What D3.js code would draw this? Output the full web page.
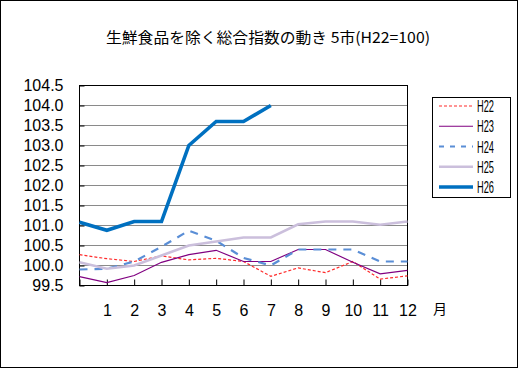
<!DOCTYPE html>
<html><head><meta charset="utf-8">
<script src="https://cdn.jsdelivr.net/npm/d3@7/dist/d3.min.js"></script>
<style>body{margin:0;background:#fff}svg{display:block}</style>
</head><body>
<script>
const months = ["", "1","2","3","4","5","6","7","8","9","10","11","12"];
const yTicks = [99.5,100.0,100.5,101.0,101.5,102.0,102.5,103.0,103.5,104.0,104.5];
const h22 = [100.27,100.17,100.10,100.24,100.14,100.18,100.10,99.73,99.94,99.82,100.10,99.66,99.74];
const h23 = [99.72,99.57,99.75,100.08,100.27,100.38,100.10,100.10,100.40,100.40,100.08,99.79,99.88];
const h24 = [99.90,99.92,100.10,100.47,100.87,100.62,100.19,100.00,100.40,100.40,100.40,100.10,100.10];
const h25 = [100.08,99.92,100.00,100.25,100.50,100.60,100.70,100.70,101.03,101.10,101.10,101.02,101.10];
const h26 = [101.08,100.88,101.10,101.10,103.00,103.60,103.60,104.00];
const seriesNames = ["H22","H23","H24","H25","H26"];
const title = "生鮮食品を除く総合指数の動き 5市(H22=100)";

const styles = {
  H22:{color:"#ff2a2a", width:1.2, dash:"3,2"},
  H23:{color:"#800080", width:1.2, dash:null},
  H24:{color:"#5a8ed6", width:2.2, dash:"8,7"},
  H25:{color:"#cbbfdc", width:2.6, dash:null},
  H26:{color:"#0070c0", width:3.6, dash:null}
};
const data = {H22:h22,H23:h23,H24:h24,H25:h25,H26:h26};

const W=519,H=369;
const svg = d3.select("body").append("svg").attr("width",W).attr("height",H);
svg.append("rect").attr("x",0.5).attr("y",0.5).attr("width",517).attr("height",367)
  .attr("fill","#fff").attr("stroke","#000");

const L=79.5,R=407.5,T=85.5,B=285.5;
const x = d3.scalePoint().domain(d3.range(months.length)).range([L,R]);
const y = d3.scaleLinear().domain([99.5,104.5]).range([B,T]);

// gridlines
svg.append("g").selectAll("line").data(yTicks.slice(1,-1)).join("line")
  .attr("x1",L).attr("x2",R).attr("y1",d=>y(d)).attr("y2",d=>y(d))
  .attr("stroke","#8a8a8a").attr("stroke-width",1);

// frame
svg.append("rect").attr("x",L).attr("y",T).attr("width",R-L).attr("height",B-T)
  .attr("fill","none").attr("stroke","#000");

// y axis
const yAxis = d3.axisLeft(y).tickValues(yTicks).tickFormat(d3.format(".1f")).tickSize(-5).tickPadding(16);
const gy = svg.append("g").attr("transform",`translate(${L},0)`).call(yAxis);
gy.select(".domain").remove();
gy.selectAll("text").attr("font-family","Liberation Sans, Arial, sans-serif").attr("font-size",16).attr("fill","#000");
gy.selectAll("line").attr("stroke","#000");

// x axis
const xAxis = d3.axisBottom(x).tickFormat(i=>months[i]).tickSize(-6).tickPadding(19);
const gx = svg.append("g").attr("transform",`translate(0,${B})`).call(xAxis);
gx.select(".domain").remove();
gx.selectAll("text").attr("font-family","Liberation Sans, Arial, sans-serif").attr("font-size",16).attr("fill","#000");
gx.selectAll("line").attr("stroke","#000");
svg.append("text").attr("x",433).attr("y",314).attr("font-family","Noto Sans CJK JP").attr("font-size",14).text("月");

// lines
const line = d3.line().x((d,i)=>x(i)).y(d=>y(d));
seriesNames.forEach(n=>{
  const s=styles[n];
  svg.append("path").datum(data[n]).attr("d",line).attr("fill","none")
    .attr("stroke",s.color).attr("stroke-width",s.width)
    .attr("stroke-dasharray",s.dash).attr("stroke-linejoin","miter");
});

// legend
const lg = svg.append("g");
lg.append("rect").attr("x",432.5).attr("y",97.5).attr("width",78).attr("height",100).attr("fill","#fff").attr("stroke","#000");
const ly = d3.scalePoint().domain(seriesNames).range([106,187]);
seriesNames.forEach(n=>{
  const s=styles[n];
  lg.append("line").attr("x1",439).attr("x2",473).attr("y1",ly(n)).attr("y2",ly(n))
    .attr("stroke",s.color).attr("stroke-width",s.width).attr("stroke-dasharray",s.dash==="8,7"?"5,6":s.dash);
  lg.append("text").attr("x",477).attr("y",ly(n)+6).attr("font-family","Liberation Sans, Arial, sans-serif")
    .attr("font-size",16).attr("textLength",17).attr("lengthAdjust","spacingAndGlyphs").text(n);
});

// title
svg.append("text").attr("x",106).attr("y",43).attr("font-family","Noto Sans CJK JP").attr("font-size",15)
  .attr("textLength",324).attr("lengthAdjust","spacingAndGlyphs").text(title);
</script>
</body></html>
